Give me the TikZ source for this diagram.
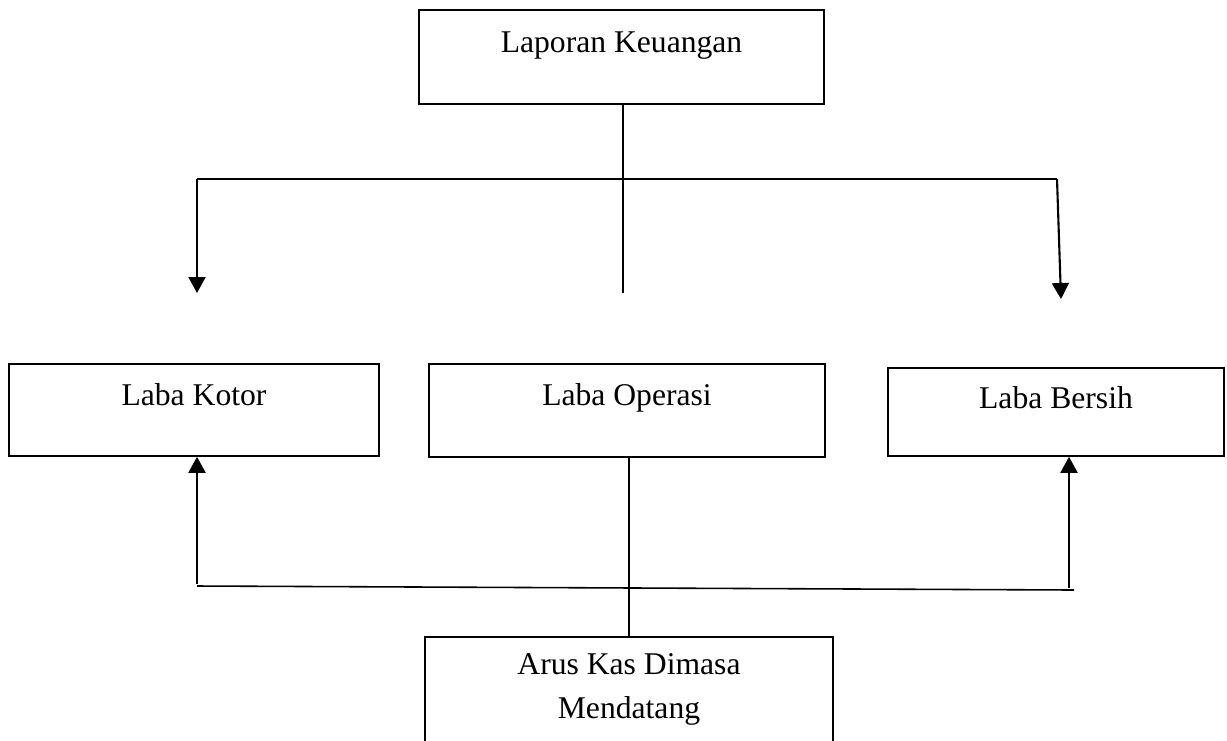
\documentclass[tikz,border=0pt]{standalone}
\usepackage{fontspec}
\setmainfont{Liberation Serif}
\usepackage{tikz}
\usetikzlibrary{arrows.meta,positioning,calc}

\begin{document}
\begin{tikzpicture}[
  kotak/.style={draw=black,line width=0.9pt,inner xsep=0pt,inner ysep=0pt,
                text height=0.82cm,text depth=1.02cm,align=center,anchor=base,
                font=\fontsize{18}{24.5}\selectfont},
  garis/.style={line width=0.9pt},
  panah/.style={-{Triangle[width=0.34cm,length=0.32cm]},line width=1.2pt}
]
\useasboundingbox (0,0) rectangle (24.54,-14.8);
\clip (0,0) rectangle (24.54,-14.8);

% Kotak atas
\node[kotak,minimum width=8.1cm,text height=0.84cm,text depth=1.04cm] (lapkeu) at (12.43,-1.04) {Laporan Keuangan};

% Kotak tengah
\node[kotak,minimum width=7.4cm] (kotor) at (3.88,-8.10) {Laba Kotor};
\node[kotak,minimum width=7.92cm,text depth=1.04cm] (operasi) at (12.54,-8.10) {Laba Operasi};
\node[kotak,minimum width=6.72cm,text height=0.80cm,text depth=0.96cm] (bersih) at (21.12,-8.16) {Laba Bersih};

% Kotak bawah
\node[kotak,minimum width=8.16cm,text height=1.62cm,text depth=1.0cm] (arus) at (12.58,-14.36) {Arus Kas Dimasa\\Mendatang};

% Titik cabang atas
\coordinate (cabang-kiri) at (3.94,-3.58);
\coordinate (cabang-kanan) at (21.14,-3.58);
\coordinate (ujung-kiri) at (3.94,-5.86);
\coordinate (ujung-kanan) at (21.22,-5.98);
\coordinate (ujung-tengah) at (12.46,-5.86);

% Titik cabang bawah
\coordinate (bawah-kiri) at (3.94,-11.72);
\coordinate (bawah-kanan) at (21.48,-11.80);
\coordinate (panah-kanan) at (21.38,-11.76);

% Garis dari laporan keuangan
\draw[garis] (lapkeu.south -| ujung-tengah) -- (ujung-tengah);
\draw[garis] (cabang-kiri) -- (cabang-kanan);
\draw[panah] (cabang-kiri) -- (ujung-kiri);
\draw[panah] (cabang-kanan) -- (ujung-kanan);

% Garis dari arus kas
\draw[garis] (arus.north) -- (arus.north |- operasi.south);
\draw[garis] (bawah-kiri) -- (bawah-kanan);
\draw[panah] ([yshift=0.05cm]bawah-kiri) -- (bawah-kiri |- kotor.south);
\draw[panah] (panah-kanan) -- (panah-kanan |- bersih.south);

\end{tikzpicture}
\end{document}
